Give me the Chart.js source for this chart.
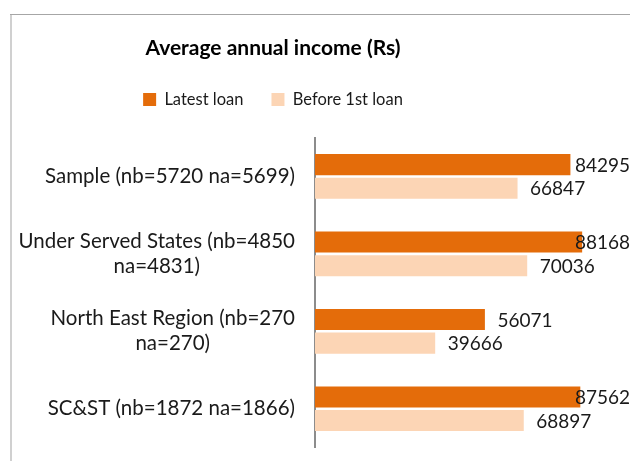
<!DOCTYPE html>
<html>
<head>
<meta charset="utf-8">
<script src="https://cdn.jsdelivr.net/npm/chart.js@4.4.1/dist/chart.umd.min.js"></script>
<style>
    html, body { margin: 0; padding: 0; background: #fff; }
    #wrap { width: 630px; height: 461px; }
</style>
</head>
<body>
<div id="wrap"><canvas id="incomeChart" width="630" height="461"></canvas></div>
<script>
// Average annual income per group
const groups = [
    ['Sample (nb=5720 na=5699)'],
    ['Under Served States (nb=4850', 'na=4831)'],
    ['North East Region (nb=270', 'na=270)'],
    ['SC&ST (nb=1872 na=1866)']
];
const latestLoan = [84295, 88168, 56071, 87562];
const beforeFirstLoan = [66847, 70036, 39666, 68897];

const FONT = 'Lato';
const HEADER_RIGHT = 546;   // title + legend are centred over 0..546
const LEGEND_GAP = 20;      // extra room under the legend

// frame around the chart (left and top edges only show)
const framePlugin = {
    id: 'frame',
    beforeDraw(chart) {
        const ctx = chart.ctx;
        ctx.save();
        ctx.strokeStyle = '#d0d0d0';
        ctx.lineWidth = 2;
        ctx.beginPath();
        ctx.moveTo(11, 461);
        ctx.lineTo(11, 14.5);
        ctx.stroke();
        ctx.strokeStyle = '#a6a6a6';
        ctx.lineWidth = 1;
        ctx.beginPath();
        ctx.moveTo(10, 14.5);
        ctx.lineTo(630, 14.5);
        ctx.stroke();
        ctx.restore();
    }
};

// header tweaks: more space under the legend, header centred left of the bars
const headerPlugin = {
    id: 'header',
    afterInit(chart) {
        const legend = chart.legend;
        const fit = legend.fit;
        legend.fit = function () {
            fit.call(this);
            this.height += LEGEND_GAP;
        };
    },
    afterLayout(chart) {
        chart.titleBlock.right = HEADER_RIGHT;
        chart.legend.right = HEADER_RIGHT;
    }
};

// category labels: lines centred on each other, block right-aligned to the axis
const categoryLabels = {
    id: 'categoryLabels',
    afterDraw(chart) {
        const ctx = chart.ctx;
        const yScale = chart.scales.y;
        const right = chart.chartArea.left - 20;
        const lineH = 25;
        ctx.save();
        ctx.font = '20.5px ' + FONT;
        ctx.fillStyle = '#1a1a1a';
        ctx.textAlign = 'center';
        ctx.textBaseline = 'middle';
        groups.forEach((lines, i) => {
            const widest = Math.max(...lines.map(l => ctx.measureText(l).width));
            const cx = right - widest / 2;
            const cy = yScale.getPixelForValue(i);
            const top = cy - (lines.length - 1) * lineH / 2;
            lines.forEach((l, j) => ctx.fillText(l, cx, top + j * lineH));
        });
        ctx.restore();
    }
};

// value labels at the end of each bar
const valueLabels = {
    id: 'valueLabels',
    afterDatasetsDraw(chart) {
        const ctx = chart.ctx;
        ctx.save();
        ctx.font = '19px ' + FONT;
        ctx.fillStyle = '#1a1a1a';
        ctx.textAlign = 'left';
        ctx.textBaseline = 'middle';
        chart.data.datasets.forEach((ds, di) => {
            chart.getDatasetMeta(di).data.forEach((bar, i) => {
                const txt = String(ds.data[i]);
                const w = ctx.measureText(txt).width;
                const x = Math.min(bar.x + 12.5, chart.width - w);
                ctx.fillText(txt, x, bar.y + 1);
            });
        });
        ctx.restore();
    }
};

new Chart(document.getElementById('incomeChart'), {
    type: 'bar',
    data: {
        labels: groups,
        datasets: [
            {
                label: 'Latest loan',
                data: latestLoan,
                backgroundColor: '#e46c0a'
            },
            {
                label: 'Before 1st loan',
                data: beforeFirstLoan,
                backgroundColor: '#fcd5b5'
            }
        ]
    },
    options: {
        indexAxis: 'y',
        responsive: false,
        animation: false,
        layout: { padding: { left: 0, right: 12, top: 0, bottom: 13.5 } },
        datasets: {
            bar: { categoryPercentage: 0.61, barPercentage: 0.89 }
        },
        scales: {
            x: {
                display: false,
                min: 0,
                max: 100000
            },
            y: {
                grid: { display: false, drawTicks: false },
                border: { display: true, color: '#8c8c8c', width: 2 },
                ticks: { display: false },
                afterFit(scale) { scale.width = 315; }
            }
        },
        plugins: {
            title: {
                display: true,
                text: 'Average annual income (Rs)',
                color: '#000',
                font: { family: FONT, size: 21, weight: 'bold' },
                padding: { top: 36, bottom: 2 }
            },
            legend: {
                position: 'top',
                labels: {
                    font: { family: FONT, size: 16.5 },
                    color: '#1a1a1a',
                    boxWidth: 13,
                    boxHeight: 13,
                    padding: 28
                }
            },
            tooltip: { enabled: false }
        }
    },
    plugins: [framePlugin, headerPlugin, categoryLabels, valueLabels]
});
</script>
</body>
</html>
